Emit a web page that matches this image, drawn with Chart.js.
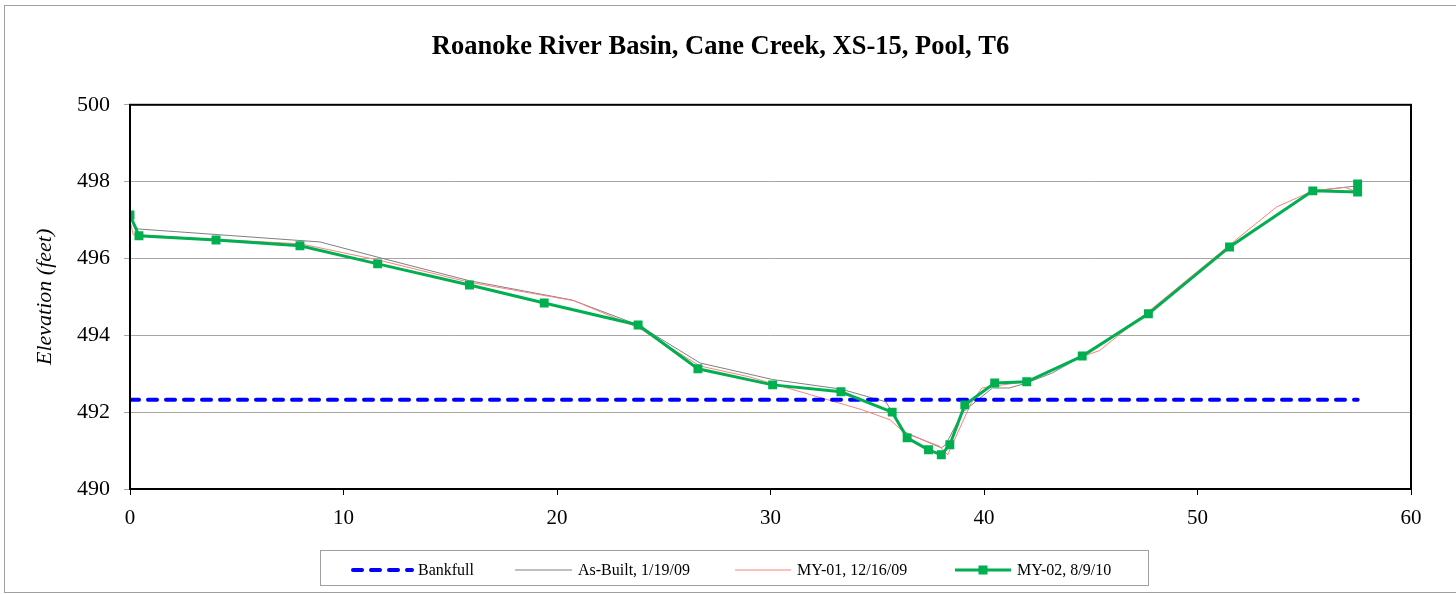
<!DOCTYPE html>
<html>
<head>
<meta charset="utf-8">
<script src="https://cdn.jsdelivr.net/npm/chart.js@4/dist/chart.umd.min.js"></script>
<style>
  html, body { margin: 0; padding: 0; background: #fff; }
  #frame { position: absolute; left: 4px; top: 5px; width: 1460px; height: 586px; border: 1px solid #a0a0a0; }
  #CrossSection { position: absolute; left: 0; top: 0; }
</style>
</head>
<body>
<div id="frame"></div>
<canvas id="CrossSection" width="1456" height="594"></canvas>
<script>
// station (ft) and elevation (ft) for each survey
const bankfullX = [0, 57.5];
const bankfullY = [492.32, 492.32];

const asBuiltX = [0, 0.35, 8.9, 11.7, 15.9, 20.7, 23.8, 26.7, 30.1, 33.3, 35.4, 36.3, 38.0, 38.2, 39.0, 40.4, 41.2, 42.0, 43.2, 44.6, 47.7, 51.5, 55.4, 57.5];
const asBuiltY = [497.1, 496.77, 496.43, 496.02, 495.42, 494.92, 494.27, 493.28, 492.85, 492.6, 492.27, 491.48, 491.07, 491.15, 492.0, 492.63, 492.63, 492.76, 493.02, 493.46, 494.6, 496.32, 497.76, 497.89];

const my01X = [0, 0.15, 4.0, 8.0, 11.7, 15.9, 20.8, 23.8, 26.7, 29.0, 34.3, 35.6, 36.3, 37.9, 38.3, 39.4, 39.9, 42.0, 44.6, 45.4, 47.7, 51.5, 53.7, 55.4, 56.9, 57.5];
const my01Y = [497.0, 496.62, 496.5, 496.38, 495.95, 495.38, 494.9, 494.2, 493.2, 492.92, 492.06, 491.8, 491.45, 491.12, 490.89, 492.24, 492.63, 492.8, 493.45, 493.6, 494.62, 496.35, 497.34, 497.76, 497.85, 497.73];

const my02X = [0, 0.42, 4.03, 7.96, 11.6, 15.9, 19.4, 23.8, 26.6, 30.1, 33.3, 35.7, 36.4, 37.4, 38.0, 38.4, 39.1, 40.5, 42.0, 44.6, 47.7, 51.5, 55.4, 57.5, 57.5];
const my02Y = [497.13, 496.59, 496.48, 496.33, 495.86, 495.31, 494.84, 494.27, 493.13, 492.71, 492.53, 492.0, 491.33, 491.02, 490.89, 491.15, 492.19, 492.76, 492.79, 493.46, 494.56, 496.3, 497.76, 497.73, 497.94];

const xTicksMin = 0, xTicksMax = 60, xStep = 10;
const yTicksMin = 490, yTicksMax = 500, yStep = 2;

const serif = '"Liberation Serif", "Times New Roman", serif';

const toPoints = (xs, ys) => xs.map((x, i) => ({ x, y: ys[i] }));

/* legend drawn like the Excel one: boxed, single row */
const excelLegend = {
  id: 'excelLegend',
  afterDraw(chart) {
    const { ctx } = chart;
    const items = [
      { ds: 0, x: 353, tx: 418 },
      { ds: 1, x: 515, tx: 578 },
      { ds: 2, x: 735, tx: 797 },
      { ds: 3, x: 955, tx: 1017 },
    ];
    const y = 570;
    ctx.save();
    ctx.strokeStyle = '#a0a0a0';
    ctx.lineWidth = 1;
    ctx.strokeRect(320.5, 550.5, 828, 35);

    items.forEach(({ ds, x, tx }) => {
      const d = chart.data.datasets[ds];
      const end = tx - 6;
      ctx.beginPath();
      ctx.strokeStyle = d.borderColor;
      ctx.lineWidth = d.borderWidth;
      ctx.lineCap = d.borderCapStyle || 'butt';
      ctx.setLineDash(d.borderDash || []);
      ctx.moveTo(x, y);
      ctx.lineTo(end, y);
      ctx.stroke();
      ctx.setLineDash([]);
      if (d.pointRadius) {
        ctx.fillStyle = d.pointBackgroundColor;
        const s = 9;
        ctx.fillRect((x + end) / 2 - s / 2, y - s / 2, s, s);
      }
      ctx.fillStyle = '#000';
      ctx.font = '16px ' + serif;
      ctx.textBaseline = 'middle';
      ctx.textAlign = 'left';
      ctx.fillText(d.label, tx, y + 1);
    });
    ctx.restore();
  },
};

/* black frame round the plot area */
const plotFrame = {
  id: 'plotFrame',
  afterDatasetsDraw(chart) {
    const { ctx, chartArea: a } = chart;
    ctx.save();
    ctx.strokeStyle = '#000';
    ctx.lineWidth = 2;
    ctx.strokeRect(a.left, a.top, a.right - a.left, a.bottom - a.top);
    ctx.restore();
  },
};

const ctx = document.getElementById('CrossSection').getContext('2d');

window.CrossSectionRef = new Chart(ctx, {
  type: 'line',
  data: {
    datasets: [
      {
        label: 'Bankfull',
        data: toPoints(bankfullX, bankfullY),
        borderColor: '#0000ff',
        borderWidth: 4,
        borderDash: [9, 9],
        borderCapStyle: 'round',
        pointRadius: 0,
        order: 1,
      },
      {
        label: 'As-Built, 1/19/09',
        data: toPoints(asBuiltX, asBuiltY),
        borderColor: '#808080',
        borderWidth: 1,
        pointRadius: 0,
        order: 3,
      },
      {
        label: 'MY-01, 12/16/09',
        data: toPoints(my01X, my01Y),
        borderColor: '#ff8080',
        borderWidth: 1,
        pointRadius: 0,
        order: 2,
      },
      {
        label: 'MY-02, 8/9/10',
        data: toPoints(my02X, my02Y),
        borderColor: '#00b050',
        borderWidth: 3,
        pointStyle: 'rect',
        pointRadius: 6.3,
        pointBorderWidth: 0,
        pointBackgroundColor: '#00b050',
        pointBorderColor: '#00b050',
        order: 0,
      },
    ],
  },
  options: {
    responsive: false,
    animation: false,
    devicePixelRatio: 1,
    parsing: false,
    layout: { padding: { left: 30, right: 45, top: 0, bottom: 60 } },
    elements: { line: { tension: 0 } },
    plugins: {
      legend: { display: false },
      tooltip: { enabled: false },
      title: {
        display: true,
        text: 'Roanoke River Basin, Cane Creek, XS-15, Pool, T6',
        color: '#000',
        font: { family: serif, size: 26.5, weight: 'bold' },
        padding: { top: 31, bottom: 42 },
      },
    },
    scales: {
      x: {
        type: 'linear',
        min: xTicksMin,
        max: xTicksMax,
        ticks: {
          stepSize: xStep,
          color: '#000',
          padding: 11,
          font: { family: serif, size: 21 },
          maxRotation: 0,
        },
        grid: { drawOnChartArea: false, tickLength: 6, color: '#000' },
        border: { display: false },
        afterFit(scale) { scale.height = 45; },
      },
      y: {
        type: 'linear',
        min: yTicksMin,
        max: yTicksMax,
        ticks: {
          stepSize: yStep,
          color: '#000',
          padding: 14,
          font: { family: serif, size: 22 },
        },
        grid: { color: '#a6a6a6', tickLength: 6 },
        border: { display: false },
        title: {
          display: true,
          text: 'Elevation (feet)',
          color: '#000',
          font: { family: serif, size: 22, style: 'italic' },
          padding: { top: 2 },
        },
        afterFit(scale) { scale.width = 100; },
      },
    },
  },
  plugins: [plotFrame, excelLegend],
});
</script>
</body>
</html>
